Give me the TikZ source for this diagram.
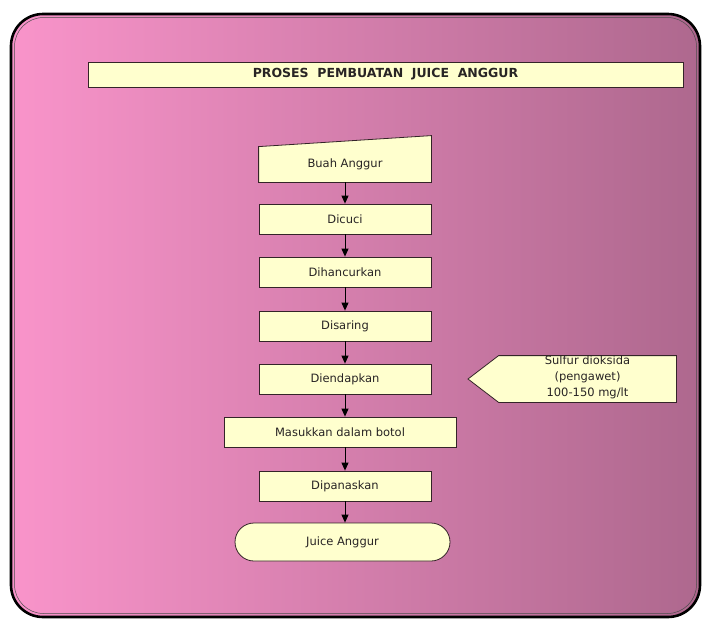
\documentclass[tikz,border=0pt]{standalone}
\usepackage{fontspec}
\setmainfont{DejaVu Sans}
\usetikzlibrary{arrows.meta}

\definecolor{bgLeft}{RGB}{249,148,202}
\definecolor{bgRight}{RGB}{174,104,142}
\definecolor{boxFill}{RGB}{255,255,206}
\definecolor{boxLine}{RGB}{52,36,40}
\definecolor{txt}{RGB}{40,36,36}

\begin{document}
\begin{tikzpicture}[
    x=1pt, y=-1pt,
    font=\fontsize{11.5}{16}\selectfont,
    box/.style={
        rectangle, draw=boxLine, line width=0.8pt, fill=boxFill,
        text=txt, align=center, minimum width=172pt, minimum height=30pt,
        inner sep=1pt
    },
    header/.style={box, font=\bfseries\fontsize{12.5}{14}\selectfont,
        minimum width=595pt, minimum height=25pt},
    conn/.style={-{Triangle[length=8pt, width=7pt]}, line width=0.9pt},
]

    \useasboundingbox (0,0) rectangle (702,619);

    % Background panel with gradient and heavy rim.
    \shade[left color=bgLeft, right color=bgRight, rounded corners=32pt]
        (11,14) rectangle (700,617);
    \draw[line width=2.6pt, rounded corners=32pt] (11,14) rectangle (700,617);
    \draw[line width=0.5pt, black!70, rounded corners=29pt]
        (14.5,17.5) rectangle (696.5,613.5);

    % Column x-coordinate of the flow.
    \def\xFlow{345}

    % ---------- Header ----------
    \node[header] (judul) at (385.5, 74.5) {PROSES\ \ PEMBUATAN\ \ JUICE\ \ ANGGUR};

    % ---------- Flow ----------
    \node[box, draw=none, fill=none, minimum height=35pt] (buah) at (\xFlow, 164.5) {};
    \filldraw[draw=boxLine, fill=boxFill, line width=0.8pt]
        (buah.south west) -- (buah.north west) -- ([yshift=11pt]buah.north east)
        -- (buah.south east) -- cycle;
    \node[text=txt] at (buah.center) {Buah Anggur};

    \node[box] (dicuci) at (\xFlow, 219) {Dicuci};
    \node[box] (hancur) at (\xFlow, 272) {Dihancurkan};
    \node[box] (saring) at (\xFlow, 326) {Disaring};
    \node[box] (endap) at (\xFlow, 379) {Diendapkan};
    \node[box, minimum width=232pt] (botol) at (340, 432) {Masukkan dalam botol};
    \node[box] (panas) at (\xFlow, 486) {Dipanaskan};
    \node[box, rounded corners=19pt, minimum width=215pt, minimum height=38pt]
        (juice) at (342.5, 542) {Juice Anggur};

    \draw[conn] (buah.south) -- (dicuci.north);
    \draw[conn] (dicuci) -- (hancur);
    \draw[conn] (hancur) -- (saring);
    \draw[conn] (saring) -- (endap);
    \draw[conn] (endap.south) -- (endap.south |- botol.north);
    \draw[conn] (panas.north |- botol.south) -- (panas.north);
    \draw[conn] (panas.south) -- (panas.south |- juice.north);

    % ---------- Additive ----------
    \node[box, draw=none, fill=none, minimum width=177pt, minimum height=46pt]
        (sulfur) at (587.5, 379) {};
    \coordinate (sulfur-tip) at (468, 379);
    \filldraw[draw=boxLine, fill=boxFill, line width=0.8pt]
        (sulfur-tip) -- (sulfur.north west) -- (sulfur.north east)
        -- (sulfur.south east) -- (sulfur.south west) -- cycle;
    \node[text=txt, align=center] at ([yshift=2pt]sulfur.center)
        {Sulfur dioksida\\(pengawet)\\100-150 mg/lt};

\end{tikzpicture}
\end{document}
